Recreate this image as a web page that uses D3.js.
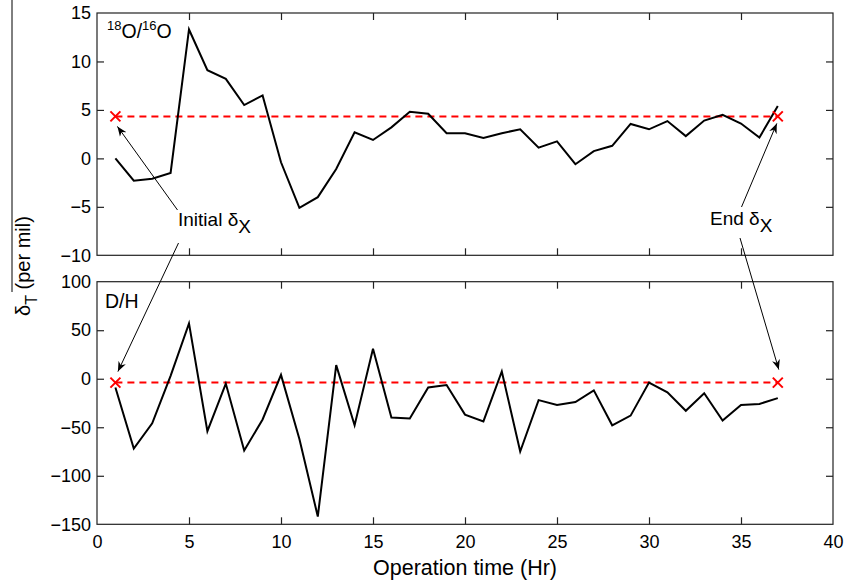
<!DOCTYPE html>
<html>
<head>
<meta charset="utf-8">
<script src="https://cdn.jsdelivr.net/npm/d3@7"></script>
<style>
  body { margin: 0; background: #fff; }
  text { font-family: "Liberation Sans", Arial, sans-serif; fill: #000; }
</style>
</head>
<body>
<div id="chart"></div>
<script>
// operation time (hr)
const hours = d3.range(1, 38);
// 18O/16O delta_T (per mil)
const oxygen = [0, -2.3, -2.1, -1.5, 13.3, 9.1, 8.2, 5.5, 6.5, -0.4,
  -5.1, -4.0, -1.1, 2.7, 1.9, 3.2, 4.8, 4.6, 2.6, 2.6,
  2.1, 2.6, 3.0, 1.1, 1.75, -0.6, 0.75, 1.3, 3.55, 3.0,
  3.85, 2.3, 3.9, 4.5, 3.6, 2.15, 5.4];
// D/H delta_T (per mil)
const deuterium = [-9, -72, -46, 3, 57, -54, -5, -74, -42, 4,
  -62, -142, 14, -48, 31, -40, -41, -9, -6.5, -37,
  -44, 7.5, -75, -22, -27, -24, -12, -48, -38, -4,
  -14, -33, -15, -43, -27, -26, -20];
const oxygenX = 4.33;   // initial/end delta_X
const deuteriumX = -4;
const xTicks = [0, 5, 10, 15, 20, 25, 30, 35, 40];
const oxyTicks = [-10, -5, 0, 5, 10, 15];
const deuTicks = [-150, -100, -50, 0, 50, 100];

const W = 845, H = 585;
const left = 97, right = 833;
const tickFont = 18;
const svg = d3.select("#chart").append("svg")
  .attr("width", W).attr("height", H);

svg.append("defs").append("marker")
  .attr("id", "arrow")
  .attr("viewBox", "0 0 10 10")
  .attr("refX", 10).attr("refY", 5)
  .attr("markerWidth", 10).attr("markerHeight", 10)
  .attr("markerUnits", "userSpaceOnUse")
  .attr("orient", "auto")
  .append("path").attr("d", "M0,1 L10,5 L0,9 L3,5 Z").attr("fill", "#000");

const x = d3.scaleLinear().domain([0, 40]).range([left, right]);

const panels = [
  { vals: oxygen, xv: oxygenX, ticks: oxyTicks, dom: [-10, 15], top: 13, bottom: 255.3, showX: false },
  { vals: deuterium, xv: deuteriumX, ticks: deuTicks, dom: [-150, 100], top: 281.7, bottom: 524.3, showX: true }
];
const ys = [];

panels.forEach((p, i) => {
  const y = d3.scaleLinear().domain(p.dom).range([p.bottom, p.top]);
  ys.push(y);
  const g = svg.append("g");

  // frame
  g.append("rect")
    .attr("x", left).attr("y", p.top)
    .attr("width", right - left).attr("height", p.bottom - p.top)
    .attr("fill", "none").attr("stroke", "#222").attr("stroke-width", 1.2);

  const tl = 7;
  // axes with inward ticks
  const ax = [
    [d3.axisBottom(x).tickValues(xTicks).tickSize(-tl), p.bottom, p.showX],
    [d3.axisTop(x).tickValues(xTicks).tickSize(-tl), p.top, false]
  ];
  ax.forEach(([a, ty, lab]) => {
    const s = g.append("g").attr("transform", `translate(0,${ty})`).call(a.tickPadding(8));
    s.select(".domain").remove();
    s.selectAll("line").attr("stroke", "#222").attr("stroke-width", 1.2);
    s.selectAll(".tick").filter(d => d === 0 || d === 40).select("line").remove();
    if (lab) s.selectAll("text").attr("font-size", tickFont).attr("fill", "#000").attr("dy", "0.9em")
      .style("font-family", "'Liberation Sans', Arial, sans-serif");
    else s.selectAll("text").remove();
  });
  const ayl = g.append("g").attr("transform", `translate(${left},0)`)
    .call(d3.axisLeft(y).tickValues(p.ticks).tickSize(-tl).tickPadding(6).tickFormat(d => d < 0 ? "\u2212" + Math.abs(d) : d));
  ayl.select(".domain").remove();
  ayl.selectAll("line").attr("stroke", "#222").attr("stroke-width", 1.2);
  ayl.selectAll(".tick").filter(d => d === p.dom[0] || d === p.dom[1]).select("line").remove();
  ayl.selectAll("text").attr("font-size", tickFont).attr("fill", "#000")
    .style("font-family", "'Liberation Sans', Arial, sans-serif");
  const ayr = g.append("g").attr("transform", `translate(${right},0)`)
    .call(d3.axisRight(y).tickValues(p.ticks).tickSize(-tl));
  ayr.select(".domain").remove();
  ayr.selectAll("text").remove();
  ayr.selectAll("line").attr("stroke", "#222").attr("stroke-width", 1.2);
  ayr.selectAll(".tick").filter(d => d === p.dom[0] || d === p.dom[1]).select("line").remove();

  // delta_X reference
  g.append("line")
    .attr("x1", x(hours[0])).attr("x2", x(hours[hours.length - 1]))
    .attr("y1", y(p.xv)).attr("y2", y(p.xv))
    .attr("stroke", "#ff0000").attr("stroke-width", 2).attr("stroke-dasharray", "7,5");

  // data line
  g.append("path")
    .datum(hours.map((h, k) => [h, p.vals[k]]))
    .attr("fill", "none").attr("stroke", "#000").attr("stroke-width", 2)
    .attr("stroke-linejoin", "miter")
    .attr("d", d3.line().x(d => x(d[0])).y(d => y(d[1])));

  // X markers
  [hours[0], hours[hours.length - 1]].forEach(h => {
    const cx = x(h), cy = y(p.xv), r = 5;
    g.append("path")
      .attr("d", `M${cx - r},${cy - r}L${cx + r},${cy + r}M${cx - r},${cy + r}L${cx + r},${cy - r}`)
      .attr("stroke", "#ff0000").attr("stroke-width", 2).attr("fill", "none");
  });
});

// panel labels
const l1 = svg.append("text").attr("x", 107).attr("y", 38).attr("font-size", 19.5);
l1.append("tspan").attr("font-size", 13).attr("dy", -8).text("18");
l1.append("tspan").attr("dy", 8).text("O/");
l1.append("tspan").attr("font-size", 13).attr("dy", -8).text("16");
l1.append("tspan").attr("dy", 8).text("O");
svg.append("text").attr("x", 105).attr("y", 308).attr("font-size", 19.5).text("D/H");

// annotations
function label(tx, ty, word) {
  const t = svg.append("text").attr("x", tx).attr("y", ty).attr("font-size", 19);
  t.append("tspan").text(word + " \u03b4");
  t.append("tspan").attr("dy", 7).text("X");
}
label(178, 226, "Initial");
label(710, 225, "End");

function arrow(x1, y1, x2, y2) {
  svg.append("line")
    .attr("x1", x1).attr("y1", y1).attr("x2", x2).attr("y2", y2)
    .attr("stroke", "#000").attr("stroke-width", 1)
    .attr("marker-end", "url(#arrow)");
}
arrow(177.5, 210, x(1) + 2, ys[0](oxygenX) + 10);
arrow(178.5, 243, x(1) + 2.5, ys[1](deuteriumX) - 11);
arrow(741.5, 207, x(37) - 1, ys[0](oxygenX) + 7);
arrow(740, 238, x(37) + 1, ys[1](deuteriumX) - 13);

// y axis title
svg.append("line").attr("x1", 12).attr("x2", 12).attr("y1", 0).attr("y2", 292)
  .attr("stroke", "#000").attr("stroke-width", 1);
const yt = svg.append("text")
  .attr("transform", "translate(30,266) rotate(-90)")
  .attr("text-anchor", "middle").attr("font-size", 20);
yt.append("tspan").text("\u03b4");
yt.append("tspan").attr("dy", 7).attr("font-size", 16).text("T");
yt.append("tspan").attr("dy", -7).text(" (per mil)");

svg.append("text").attr("x", (left + right) / 2).attr("y", 575)
  .attr("text-anchor", "middle").attr("font-size", 21.5).text("Operation time (Hr)");
</script>
</body>
</html>
